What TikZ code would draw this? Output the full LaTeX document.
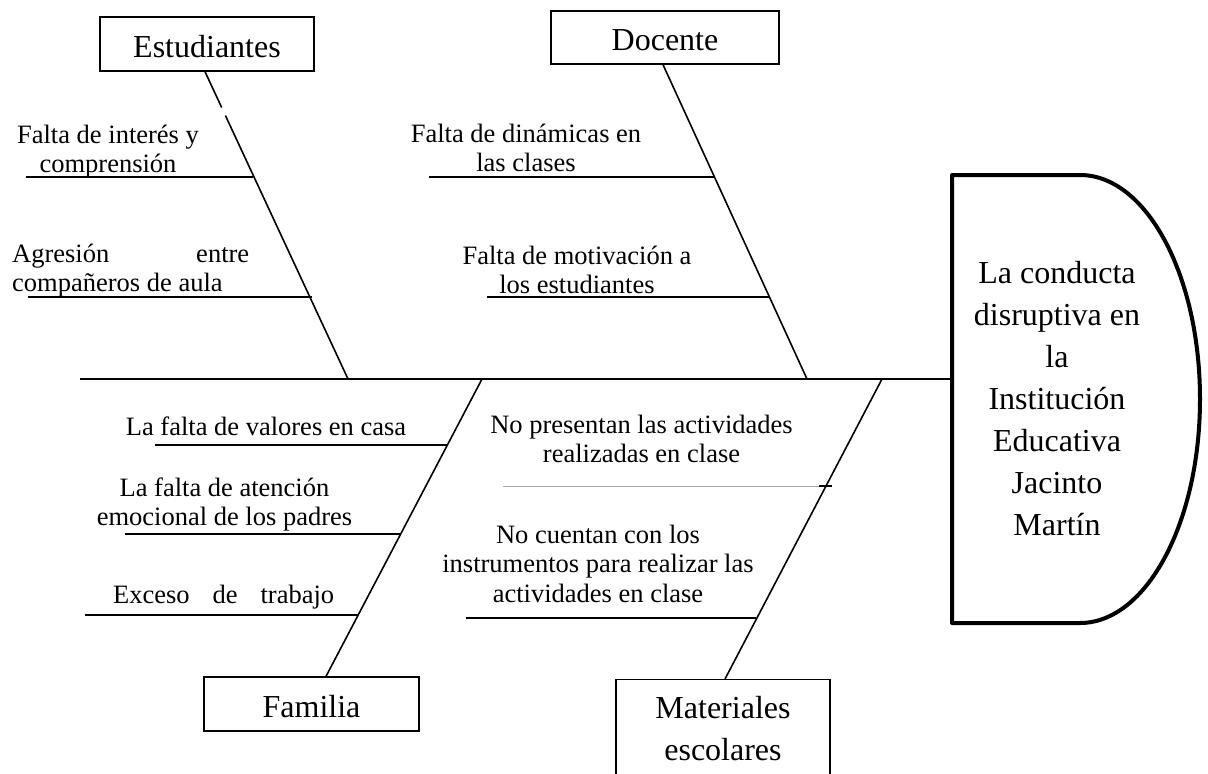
\documentclass[tikz,border=0pt]{standalone}
\usepackage{fontspec}
\setmainfont{Liberation Serif}
\usetikzlibrary{calc}
\newcommand\mytab[2][c]{\begin{tabular}[t]{@{}#1@{}}#2\end{tabular}}
\begin{document}
\begin{tikzpicture}[x=1pt,y=-1pt,
  box/.style={draw, line width=1.3pt, inner sep=0pt, font=\fontsize{32}{42}\selectfont, text height=26pt, text depth=0pt},
  lbl/.style={inner sep=0pt, anchor=base, font=\fontsize{26.5}{29.5}\selectfont},
  bone/.style={line width=1.6pt},
  sub/.style={line width=1.8pt},
  spine/.style={line width=2pt},
  head/.style={line width=4pt, line join=round},
  faint/.style={line width=1pt, draw=black!35},
]
\useasboundingbox (0,0) rectangle (1208,774);

% category boxes
\node[box, minimum width=214pt, minimum height=54pt] (estu) at (207,44) {Estudiantes};
\node[box, minimum width=228pt, minimum height=53pt] (doc) at (665,37.5) {Docente};
\node[box, minimum width=215pt, minimum height=54pt] (fam) at (311.5,704) {Familia};
\node[box, minimum width=214pt, minimum height=120pt, anchor=north] (mat) at (723,679) {};
\node[lbl, font=\fontsize{32}{42}\selectfont] (mattxt) at (723,718) {\mytab{Materiales\\escolares}};

% head
\draw[head] (1080,175) -- (952,175) -- (952,623) -- (1080,623)
  arc[start angle=90, end angle=-90, x radius=120, y radius=224] -- cycle;
\coordinate (hl) at (952,379);
\node[lbl, font=\fontsize{32}{42}\selectfont] (headtxt) at (1057,283)
  {\mytab{La conducta\\disruptiva en\\la\\Institución\\Educativa\\Jacinto\\Martín}};

% spine
\coordinate (tail) at (80,379);
\draw[spine] (tail) -- (hl);

% bones
\coordinate (sE) at (348,379);
\coordinate (sD) at (807,379);
\coordinate (sF) at (482,379);
\coordinate (sM) at (882,379);
\coordinate (tE) at ([xshift=-2pt]estu.south);
\draw[bone] (tE) -- ($(tE)!0.117!(sE)$);
\draw[bone] ($(tE)!0.143!(sE)$) -- (sE);
\draw[bone] ([xshift=-2pt]doc.south) -- (sD);
\draw[bone] ([xshift=14.5pt]fam.north) -- (sF);
\draw[bone] ([xshift=2pt]mat.north) -- (sM);

% sub-bones
\coordinate (e1a) at (26,177);  \coordinate (e1b) at (253,177);
\coordinate (e2a) at (28,297);  \coordinate (e2b) at (312,297);
\coordinate (d1a) at (429,177); \coordinate (d1b) at (714,177);
\coordinate (d2a) at (487,297); \coordinate (d2b) at (770,297);
\coordinate (f1a) at (155,445); \coordinate (f1b) at (447,445);
\coordinate (f2a) at (125,534); \coordinate (f2b) at (401,534);
\coordinate (f3a) at (85,615);  \coordinate (f3b) at (358,615);
\coordinate (m1a) at (503,486); \coordinate (m1c) at (819,486); \coordinate (m1b) at (832,486);
\coordinate (m2a) at (466,618); \coordinate (m2b) at (756,618);
\draw[sub] (e1a) -- (e1b);
\draw[sub] (e2a) -- (e2b);
\draw[sub] (d1a) -- (d1b);
\draw[sub] (d2a) -- (d2b);
\draw[sub] (f1a) -- (f1b);
\draw[sub] (f2a) -- (f2b);
\draw[sub] (f3a) -- (f3b);
\draw[faint] (m1a) -- (m1c);
\draw[sub] (m1c) -- (m1b);
\draw[sub] (m2a) -- (m2b);

% labels
\node[lbl] (le1) at (108,143) {\mytab{Falta de interés y\\comprensión}};
\node[lbl, anchor=base west] (le2) at (12,262) {\mytab[l]{\hbox to 237pt{Agresión\hfill entre}\\compañeros de aula}};
\node[lbl] (ld1) at (526,142) {\mytab{Falta de dinámicas en\\las clases}};
\node[lbl] (ld2) at (577,264) {\mytab{Falta de motivación a\\los estudiantes}};
\node[lbl] (lf1) at (266,435) {La falta de valores en casa};
\node[lbl] (lf2) at (224.5,496) {\mytab{La falta de atención\\emocional de los padres}};
\node[lbl, anchor=base west] (lf3) at (113,603) {\hbox to 221pt{Exceso\hfill de\hfill trabajo}};
\node[lbl] (lm1) at (641.5,433) {\mytab{No presentan las actividades\\realizadas en clase}};
\node[lbl] (lm2) at (598,543) {\mytab{No cuentan con los\\instrumentos para realizar las\\actividades en clase}};
\end{tikzpicture}
\end{document}
